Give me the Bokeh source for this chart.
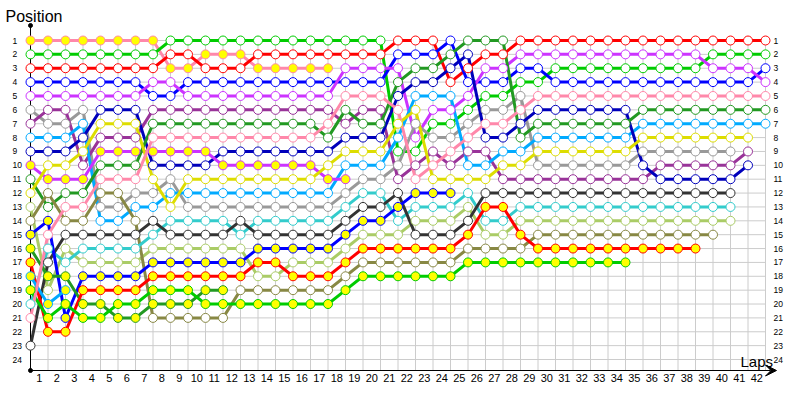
from bokeh.plotting import figure
from bokeh.models import Range1d, Arrow, VeeHead, ColumnDataSource
from bokeh.core.properties import value
from bokeh.embed import file_html
from bokeh.resources import INLINE

# ---------------- data: position after each lap (lap 0 = grid) ----------------
drivers = [
    # name, line colour, marker fill, positions from lap 0
    ("pinkY",  "#FF88AA", "#FFFF00", [1,1,1,1,1,1,1,1,3,3,2,2,2,3,3,3,3,3]),
    ("green",  "#00CC00", "#FFFFFF", [2]*8 + [1]*13 + [9,9,7,7,6,5,5,4,4] + [3]*9 + [2]*4),
    ("red",    "#FF0000", "#FFFFFF", [3]*8 + [2,2] + [3,3,3] + [2]*8 + [1,1,1] + [4,3,2,2] + [1]*15),
    ("blue",   "#0000FF", "#FFFFFF", [4]*7 + [5,5] + [4]*12 + [2,2,2] + [1] + [4,4,4] + [3,3] + [4]*12 + [3]),
    ("violet", "#CC33FF", "#FFFFFF", [5]*7 + [4,4] + [5]*9 + [3]*4 + [8,6,6,5,3,3] + [2]*11 + [3,3,3] + [4]),
    ("gray",   "#999999", "#FFFFFF", [6,7,7,6,13,13,12,12,11] + [13]*9 + [12,11,11,10,7,8,8,7,6,6,5] + [10]*6 + [9]*6),
    ("dpurple","#993399", "#FFFFFF", [7,6,6,10,8,8,8] + [6]*11 + [7,6,6] + [11,10,9,10,9,9] + [11]*9 + [10]*5 + [9]),
    ("lblue",  "#00AAFF", "#FFFFFF", [8,8,8,7,14,14,13,13,12,12] + [12]*8 + [10,10,10] + [8,5,5,5] + [10,10,9,9,8,8,8,8,8,8] + [7]*8),
    ("navy",   "#0000BB", "#FFFFFF", [9,9,9,8,6,6,6] + [10]*4 + [9]*7 + [8,8,8] + [5,4,4,3,2,8,8,7] + [6]*6 + [10] + [11]*5 + [10]),
    ("violY",  "#CC33FF", "#FFFF00", [10,11,11,11] + [9]*7 + [10]*6 + [11,11]),
    ("dgreen", "#229922", "#FFFFFF", [11,13,12,12,10,10,10] + [7]*10 + [8] + [6,7,7] + [4,3,3,2] + [1,1,1] + [8] + [7]*6 + [6]*8),
    ("yellow", "#DDDD00", "#FFFFFF", [12,10,10,9,7,7,7,11,13] + [11]*8 + [10] + [9,9,9] + [7,6] + [11]*4 + [10,10] + [9]*6 + [8]*7),
    ("lgreen", "#AACC66", "#FFFFFF", [13,19,16,17,17,17,17] + [16]*6 + [18,18] + [17,17,17] + [16] + [15]*3 + [14]*3 + [13] + [15,15] + [14]*13),
    ("olive",  "#888844", "#FFFFFF", [14,12,14,14,12,12,14] + [21]*5 + [19]*6 + [18] + [17]*6 + [16]*4 + [15]*11),
    ("cyan",   "#33CCCC", "#FFFFFF", [20,16,17,16,16,16,16,15] + [14]*4 + [15] + [14]*5 + [13] + [12,12] + [14] + [13]*3 + [12] + [14,14] + [13]*13),
    ("black",  "#333333", "#FFFFFF", [23,17,15,15,15,15,15,14,15] + [15]*3 + [14] + [15]*5 + [14] + [13,13] + [12] + [15,15,15] + [14] + [12]*15),
    ("blueY",  "#0000FF", "#FFFF00", [15,14,21] + [18]*4 + [17]*6 + [16]*5 + [15] + [14,14] + [13] + [12]*3),
    ("dgreenY","#229922", "#FFFF00", [16,18,18,20,20,21,21,20,20,20,19,19]),
    ("redY",   "#FF0000", "#FFFF00", [17,22,22] + [19]*4 + [18]*6 + [17,17] + [18]*3 + [17] + [16]*6 + [15] + [13,13] + [15] + [16]*10),
    ("lblueY", "#00AAFF", "#FFFF00", [18,20,19]),
    ("greenY", "#00CC00", "#FFFF00", [19,21,20,21,21,20,20,19,19,19] + [20]*8 + [19] + [18]*6 + [17]*10),
    ("pink",   "#FF88AA", "#FFFFFF", [21,15,13,13,11,11,11] + [8]*10 + [7] + [5,5,5] + [6,11,10,9,8,7,7,6] + [5]*14),
]

n_laps = 42
positions = list(range(1, 25))
position_labels = [str(v) for v in positions]
lap_ticks = list(range(1, n_laps + 1))
lap_labels = [str(v) for v in lap_ticks]

# ---------------- figure (frame = whole canvas) ----------------
W, H = 784, 384
X0, PX_X = 30, 17.5     # canvas x of lap 0, pixels per lap
Y0, PX_Y = 40, 13.87    # canvas y of position 1, pixels per position

def kx(px):
    return (px - X0) / PX_X

def py(px):
    return 1 + (px - Y0) / PX_Y

p = figure(width=W, height=H, output_backend="svg", toolbar_location=None,
           x_range=Range1d(kx(0), kx(W)), y_range=Range1d(py(H), py(0)),
           x_axis_type=None, y_axis_type=None,
           min_border_left=0, min_border_right=0, min_border_top=0, min_border_bottom=0)
p.outline_line_color = None
p.xgrid.visible = False
p.ygrid.visible = False
p.background_fill_color = "white"

FONT = "Liberation Sans"
axis_y = py(370)

# grid
laps_all = list(range(0, n_laps + 1))
p.segment(x0=laps_all, y0=[1] * len(laps_all), x1=laps_all, y1=[axis_y] * len(laps_all),
          line_color="#CCCCCC", line_width=1)
p.segment(x0=[0] * len(positions), y0=positions, x1=[n_laps] * len(positions), y1=positions,
          line_color="#CCCCCC", line_width=1)

# tick labels
p.text(x=[kx(12)] * len(positions), y=positions, text=position_labels,
       text_font=value(FONT), text_font_size="8.5px", text_baseline="middle",
       text_align="left", text_color="#000000")
p.text(x=[kx(773)] * len(positions), y=positions, text=position_labels,
       text_font=value(FONT), text_font_size="8.5px", text_baseline="middle",
       text_align="left", text_color="#000000")
p.text(x=[t - 0.5 for t in lap_ticks], y=[py(377.5)] * len(lap_ticks), text=lap_labels,
       text_font=value(FONT), text_font_size="11px", text_baseline="middle",
       text_align="center", text_color="#000000")

# axes lines
p.segment(x0=[0], y0=[py(25)], x1=[0], y1=[axis_y], line_color="black", line_width=1)
p.scatter(x=[0, 0], y=[py(25), axis_y], size=4, color="black")
p.add_layout(Arrow(end=VeeHead(size=11, fill_color="black", line_color="black", line_width=1),
                   x_start=0, y_start=axis_y, x_end=kx(776), y_end=axis_y,
                   line_color="black", line_width=1))

# driver lines
for name, col, fill, pos in drivers:
    laps = list(range(len(pos)))
    src = ColumnDataSource(dict(lap=laps, pos=pos))
    p.line("lap", "pos", source=src, line_color=col, line_width=3)
for name, col, fill, pos in drivers:
    laps = list(range(len(pos)))
    src = ColumnDataSource(dict(lap=laps, pos=pos))
    p.scatter("lap", "pos", source=src, marker="circle", size=9,
              fill_color=fill, line_color=col, line_width=1)

# titles
p.text(x=[kx(5)], y=[py(16)], text=["Position"], text_font=value(FONT), text_font_size="16px",
       text_baseline="middle", text_align="left", text_color="#000000")
p.text(x=[kx(740)], y=[py(361)], text=["Laps"], text_font=value(FONT), text_font_size="15px",
       text_baseline="middle", text_align="left", text_color="#000000")

open("out.html", "w").write(file_html(p, INLINE))
